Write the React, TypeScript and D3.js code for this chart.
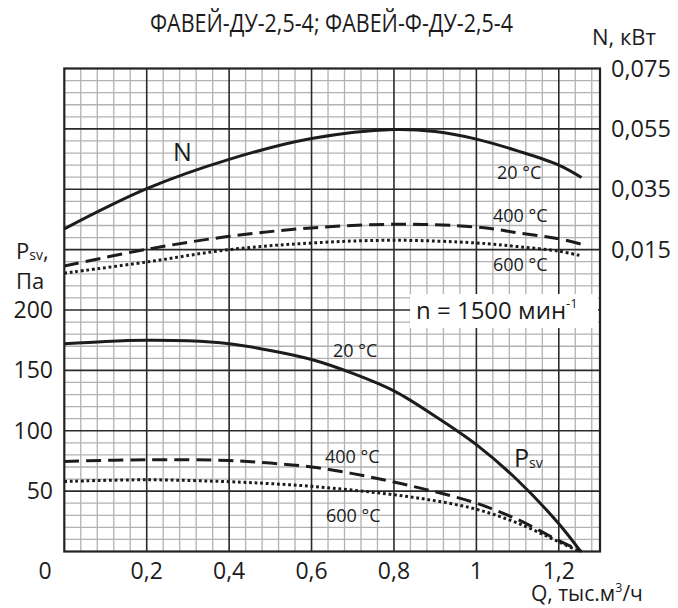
import React from "react";
import * as d3 from "d3";

// ---- data ----
const qTicks = [0, 0.2, 0.4, 0.6, 0.8, 1, 1.2];
const qTickLabels = ["0", "0,2", "0,4", "0,6", "0,8", "1", "1,2"];
const pTicks = [50, 100, 150, 200];
const nTicks = [0.075, 0.055, 0.035, 0.015];
const nTickLabels = ["0,075", "0,055", "0,035", "0,015"];

const qN20 = [0, 0.2, 0.4, 0.6, 0.8, 0.9, 1.0, 1.1, 1.2, 1.255];
const n20 = [0.0219, 0.0352, 0.0449, 0.0518, 0.0548, 0.0541, 0.0516, 0.0477, 0.043, 0.0389];
const qN400 = [0, 0.2, 0.4, 0.6, 0.8, 1.0, 1.1, 1.2, 1.255];
const n400 = [0.0096, 0.0151, 0.0194, 0.0222, 0.0234, 0.0225, 0.0206, 0.0186, 0.0168];
const qN600 = [0, 0.2, 0.4, 0.6, 0.8, 1.0, 1.1, 1.2, 1.25];
const n600 = [0.0072, 0.0109, 0.015, 0.0172, 0.0181, 0.0172, 0.016, 0.0145, 0.0131];

const qP20 = [0, 0.1, 0.2, 0.3, 0.4, 0.5, 0.6, 0.7, 0.8, 0.9, 1.0, 1.1, 1.2, 1.253];
const p20 = [172, 174, 175, 174.5, 172, 166.5, 159, 147.5, 133, 112, 88.5, 59, 23, 0];
const qP400 = [0, 0.2, 0.4, 0.5, 0.6, 0.7, 0.8, 0.9, 1.0, 1.1, 1.2, 1.256];
const p400 = [74.6, 76, 75.4, 73.2, 70, 64.5, 57.5, 49.5, 40, 26.5, 9, 0];
const qP600 = [0, 0.2, 0.4, 0.5, 0.6, 0.7, 0.8, 0.9, 1.0, 1.1, 1.2, 1.25];
const p600 = [58, 59.4, 57.8, 56.2, 54, 50.8, 47, 42, 35, 23.5, 8, 0];

// ---- layout ----
const W = 678, H = 608;
const L = 64.3, R = 600, T = 68.5, B = 551.5;
const x = d3.scaleLinear().domain([0, 1.3]).range([L, R]);
const y = d3.scaleLinear().domain([0, 400]).range([B, T]);
// N axis shares the grid: 0.015 -> 250 Pa line, 0.075 -> 400 Pa line
const yN = d3.scaleLinear().domain([0.015, 0.075]).range([y(250), y(400)]);

const FONT = "'Open Sans', 'Noto Sans', sans-serif";
const INK = "#1c1c1c";

function mk(qs: number[], vs: number[], sc: (v: number) => number) {
  const line = d3
    .line<number>()
    .x((_, i) => x(qs[i]))
    .y((v) => sc(v))
    .curve(d3.curveCatmullRom.alpha(0.5));
  return line(vs) || "";
}

export default function App() {
  const minorX: number[] = [];
  for (let k = 1; k * 0.04 < 1.3 - 1e-6; k++) if (k % 5 !== 0) minorX.push(k * 0.04);
  const majorX = [0.2, 0.4, 0.6, 0.8, 1.0, 1.2];
  const minorY: number[] = [];
  for (let v = 10; v < 400; v += 10) if (v % 50 !== 0) minorY.push(v);
  const majorY = [50, 100, 150, 200, 250, 300, 350];

  const curves = [
    { d: mk(qN20, n20, yN), dash: undefined as string | undefined },
    { d: mk(qN400, n400, yN), dash: "15 7" },
    { d: mk(qN600, n600, yN), dash: "2.8 2.8" },
    { d: mk(qP20, p20, y), dash: undefined },
    { d: mk(qP400, p400, y), dash: "15 7" },
    { d: mk(qP600, p600, y), dash: "2.8 2.8" },
  ];

  return (
    <div style={{ position: "absolute", left: 0, top: 0 }}>
      <svg width={W} height={H} style={{ display: "block", background: "#fff" }} fontFamily={FONT}>
        <rect x={0} y={0} width={W} height={H} fill="#fff" />
        {/* minor grid */}
        {minorX.map((q) => (
          <line key={"mx" + q} x1={x(q)} x2={x(q)} y1={T} y2={B} stroke="#b2b2b2" strokeWidth={1.3} />
        ))}
        {minorY.map((v) => (
          <line key={"my" + v} x1={L} x2={R} y1={y(v)} y2={y(v)} stroke="#b2b2b2" strokeWidth={1.3} />
        ))}
        {/* major grid */}
        {majorX.map((q) => (
          <line key={"MX" + q} x1={x(q)} x2={x(q)} y1={T} y2={B} stroke="#2a2a2a" strokeWidth={1.6} />
        ))}
        {majorY.map((v) => (
          <line key={"MY" + v} x1={L} x2={R} y1={y(v)} y2={y(v)} stroke="#2a2a2a" strokeWidth={1.6} />
        ))}
        <rect x={L} y={T} width={R - L} height={B - T} fill="none" stroke="#222" strokeWidth={2.2} />

        {/* rpm box */}
        <rect x={410} y={294} width={188} height={34} fill="#fff" />
        <text x={416} y={319} fontSize={24} fill={INK}>
          n = 1500 мин<tspan fontSize={13} dy={-11}>-1</tspan>
        </text>

        {/* curves */}
        {curves.map((c, i) => (
          <path key={i} d={c.d} fill="none" stroke={INK} strokeWidth={3} strokeDasharray={c.dash} />
        ))}

        {/* title */}
        <text x={150} y={32} fontSize={26} fill={INK} textLength={363} lengthAdjust="spacingAndGlyphs">
          ФАВЕЙ-ДУ-2,5-4; ФАВЕЙ-Ф-ДУ-2,5-4
        </text>

        {/* x tick labels */}
        {qTicks.map((q, i) => (
          <text key={"xt" + i} x={i === 0 ? 45 : x(q)} y={579} fontSize={23} textAnchor="middle" fill={INK}>
            {qTickLabels[i]}
          </text>
        ))}
        <text x={531} y={601} fontSize={21} fill={INK}>
          Q, тыс.м<tspan fontSize={12.5} dy={-9}>3</tspan>
          <tspan dy={9}>/ч</tspan>
        </text>

        {/* left P ticks */}
        {pTicks.map((v) => (
          <text key={"pt" + v} x={53} y={y(v) + 8} fontSize={23} textAnchor="end" fill={INK}>
            {v}
          </text>
        ))}
        <text x={16} y={259} fontSize={22} fill={INK}>
          P<tspan fontSize={14} dy={1}>sv</tspan>
          <tspan dy={-1}>,</tspan>
        </text>
        <text x={16} y={289} fontSize={22} fill={INK}>
          Па
        </text>

        {/* right N ticks */}
        {nTicks.map((v, i) => (
          <text key={"nt" + i} x={611} y={yN(v) + 8} fontSize={23.5} fill={INK}>
            {nTickLabels[i]}
          </text>
        ))}
        <text x={592} y={45} fontSize={22} fill={INK}>
          N, кВт
        </text>

        {/* inner labels */}
        <text x={173} y={161} fontSize={25} fill={INK}>N</text>
        <text x={497} y={178.5} fontSize={18} fill={INK}>20 °C</text>
        <text x={493} y={221.5} fontSize={18} fill={INK}>400 °C</text>
        <text x={493} y={270.5} fontSize={18} fill={INK}>600 °C</text>
        <text x={333} y={356.5} fontSize={18} fill={INK}>20 °C</text>
        <text x={325} y={463} fontSize={18} fill={INK}>400 °C</text>
        <text x={326} y={522} fontSize={18} fill={INK}>600 °C</text>
        <text x={514} y={467} fontSize={25} fill={INK}>
          P<tspan fontSize={14} dy={1}>sv</tspan>
        </text>
      </svg>
    </div>
  );
}
